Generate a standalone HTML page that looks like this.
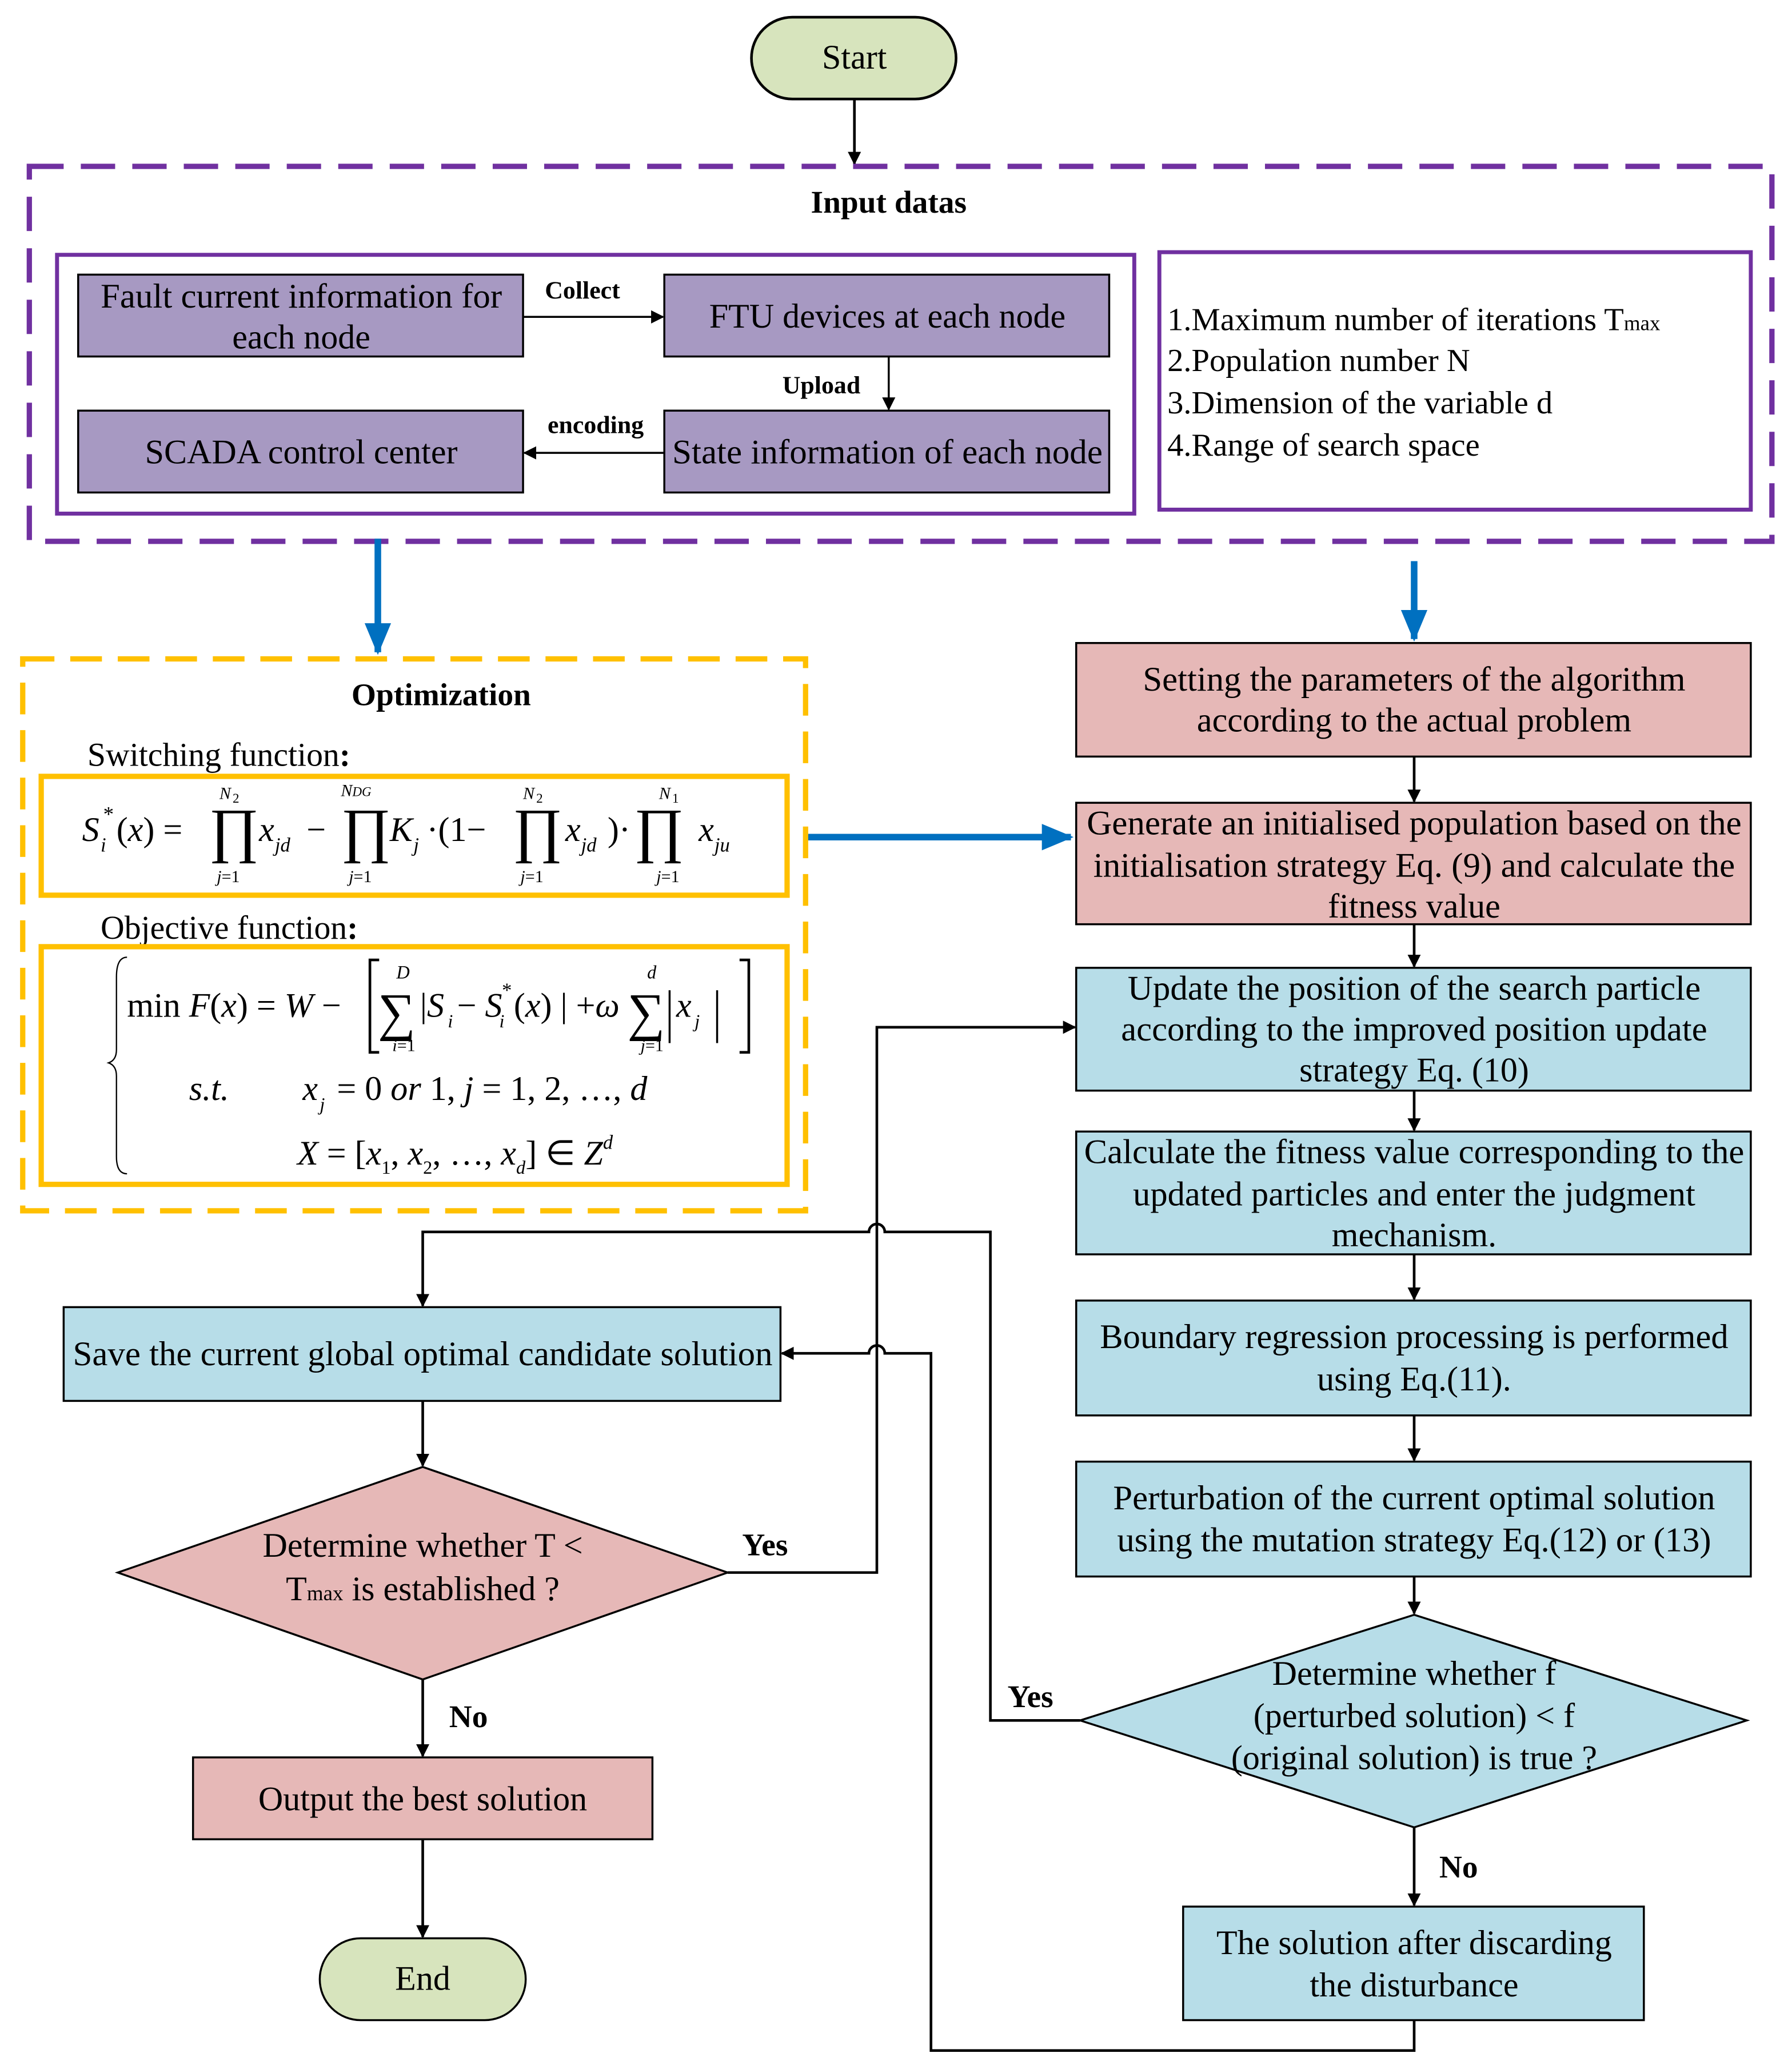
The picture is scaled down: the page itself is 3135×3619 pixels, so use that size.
<!DOCTYPE html>
<html><head><meta charset="utf-8"><style>html,body{margin:0;padding:0;background:#fff}svg{display:block}</style></head>
<body>
<svg xmlns="http://www.w3.org/2000/svg" width="3135" height="3619" viewBox="0 0 1357 1567" font-family="Liberation Serif, serif" font-size="26">
<defs>
<marker id="a" markerWidth="10" markerHeight="10" refX="9" refY="5" orient="auto" markerUnits="userSpaceOnUse"><path d="M0,0 L10,5 L0,10 z" fill="#000"/></marker>
<marker id="b" markerWidth="24" markerHeight="24" refX="22" refY="12" orient="auto" markerUnits="userSpaceOnUse"><path d="M0,2 L24,12 L0,22 z" fill="#0070c0"/></marker>
</defs>
<rect width="1357" height="1567" fill="#fff"/>
<g stroke="#000" stroke-width="2" fill="none">
<rect x="569" y="13" width="155" height="62" rx="31" fill="#d7e4bd"/>
<line x1="647" y1="75" x2="647" y2="124" marker-end="url(#a)"/>
</g>
<text x="647" y="52" text-anchor="middle">Start</text>
<rect x="22" y="126" width="1320" height="284" fill="none" stroke="#7030a0" stroke-width="4" stroke-dasharray="26,13"/>
<text x="673" y="161" text-anchor="middle" font-weight="bold" font-size="24">Input datas</text>
<rect x="43" y="193" width="816" height="196" fill="none" stroke="#7030a0" stroke-width="3"/>
<rect x="878" y="191" width="448" height="195" fill="none" stroke="#7030a0" stroke-width="3"/>
<g fill="#a799c2" stroke="#000" stroke-width="1.5">
<rect x="59" y="208" width="337" height="62"/><rect x="503" y="208" width="337" height="62"/>
<rect x="59" y="311" width="337" height="62"/><rect x="503" y="311" width="337" height="62"/>
</g>
<text x="228" y="233" text-anchor="middle" textLength="304" lengthAdjust="spacingAndGlyphs">Fault current information for</text>
<text x="228" y="264" text-anchor="middle">each node</text>
<text x="672" y="248" text-anchor="middle">FTU devices at each node</text>
<text x="228" y="351" text-anchor="middle">SCADA control center</text>
<text x="672" y="351" text-anchor="middle" textLength="326" lengthAdjust="spacingAndGlyphs">State information of each node</text>
<g stroke="#000" stroke-width="1.5" fill="none">
<line x1="396" y1="240" x2="502" y2="240" marker-end="url(#a)"/>
<line x1="673" y1="270" x2="673" y2="310" marker-end="url(#a)"/>
<line x1="503" y1="343" x2="397" y2="343" marker-end="url(#a)"/>
</g>
<g font-weight="bold" font-size="19" text-anchor="middle">
<text x="441" y="226">Collect</text><text x="622" y="298">Upload</text><text x="451" y="328">encoding</text>
</g>
<g font-size="24.5">
<text x="884" y="250">1.Maximum number of iterations T<tspan font-size="16">max</tspan></text>
<text x="884" y="281">2.Population number N</text>
<text x="884" y="313">3.Dimension of the variable d</text>
<text x="884" y="345">4.Range of search space</text>
</g>
<g stroke="#0070c0" stroke-width="5" fill="none">
<line x1="286" y1="408" x2="286" y2="494" marker-end="url(#b)"/>
<line x1="1071" y1="425" x2="1071" y2="484" marker-end="url(#b)"/>
<line x1="610" y1="634" x2="811" y2="634" marker-end="url(#b)"/>
</g>
<rect x="17" y="499" width="593" height="418" fill="none" stroke="#ffc000" stroke-width="4" stroke-dasharray="24,12"/>
<text x="334" y="534" text-anchor="middle" font-weight="bold" font-size="24">Optimization</text>
<text x="66" y="580" font-size="25">Switching function<tspan font-weight="bold">:</tspan></text>
<rect x="31" y="588" width="565" height="90" fill="none" stroke="#ffc000" stroke-width="4"/>
<text x="76" y="711" font-size="25">Objective function<tspan font-weight="bold">:</tspan></text>
<rect x="31" y="717" width="565" height="180" fill="none" stroke="#ffc000" stroke-width="4"/>
<g font-size="26">
<text x="62" y="637" font-style="italic">S</text><text x="76" y="645" font-size="15" font-style="italic">i</text><text x="78" y="622" font-size="16">*</text>
<text x="88" y="637">(<tspan font-style="italic">x</tspan>) =</text>
<text x="158" y="644" font-size="46">∏</text><text x="166" y="605" font-size="13" font-style="italic">N</text><text x="176" y="608" font-size="10">2</text><text x="164" y="668" font-size="13"><tspan font-style="italic">j</tspan>=1</text>
<text x="196" y="637" font-style="italic">x</text><text x="208" y="645" font-size="15" font-style="italic">jd</text>
<text x="232" y="637">−</text>
<text x="258" y="644" font-size="46">∏</text><text x="258" y="603" font-size="13" font-style="italic">N<tspan font-size="10">DG</tspan></text><text x="264" y="668" font-size="13"><tspan font-style="italic">j</tspan>=1</text>
<text x="295" y="637" font-style="italic">K</text><text x="313" y="645" font-size="15" font-style="italic">j</text>
<text x="323" y="637">·(1−</text>
<text x="388" y="644" font-size="46">∏</text><text x="396" y="605" font-size="13" font-style="italic">N</text><text x="406" y="608" font-size="10">2</text><text x="394" y="668" font-size="13"><tspan font-style="italic">j</tspan>=1</text>
<text x="428" y="637" font-style="italic">x</text><text x="440" y="645" font-size="15" font-style="italic">jd</text>
<text x="460" y="637">)·</text>
<text x="480" y="644" font-size="46">∏</text><text x="499" y="605" font-size="13" font-style="italic">N</text><text x="509" y="608" font-size="10">1</text><text x="497" y="668" font-size="13"><tspan font-style="italic">j</tspan>=1</text>
<text x="529" y="637" font-style="italic">x</text><text x="541" y="645" font-size="15" font-style="italic">ju</text>
</g>
<path d="M96,725 Q88,725 88,740 L88,795 Q88,803 82,805 Q88,807 88,815 L88,876 Q88,889 96,889" fill="none" stroke="#000" stroke-width="1"/>
<g font-size="26">
<text x="96" y="770">min <tspan font-style="italic">F</tspan>(<tspan font-style="italic">x</tspan>) = <tspan font-style="italic">W</tspan> −</text>
<path d="M287,727 L280,727 L280,797 L287,797 M560,727 L567,727 L567,797 L560,797" fill="none" stroke="#000" stroke-width="2"/>
<text x="286" y="780" font-size="40">∑</text><text x="300" y="741" font-size="14" font-style="italic">D</text><text x="297" y="796" font-size="13"><tspan font-style="italic">i</tspan>=1</text>
<text x="318" y="770">|<tspan font-style="italic">S</tspan></text><text x="339" y="778" font-size="14" font-style="italic">i</text>
<text x="346" y="770">− <tspan font-style="italic">S</tspan></text><text x="378" y="778" font-size="14" font-style="italic">i</text><text x="380" y="755" font-size="15">*</text>
<text x="389" y="770">(<tspan font-style="italic">x</tspan>) | +<tspan font-style="italic">ω</tspan></text>
<text x="475" y="780" font-size="40">∑</text><text x="490" y="741" font-size="14" font-style="italic">d</text><text x="485" y="796" font-size="13"><tspan font-style="italic">j</tspan>=1</text>
<path d="M507,750 L507,790 M543,750 L543,790" stroke="#000" stroke-width="1.5"/>
<text x="512" y="770" font-style="italic">x</text><text x="526" y="778" font-size="14" font-style="italic">j</text>
<text x="143" y="833" font-style="italic">s.t.</text>
<text x="229" y="833" font-style="italic">x</text><text x="242" y="841" font-size="14" font-style="italic">j</text>
<text x="255" y="833">= 0 <tspan font-style="italic">or</tspan> 1,    <tspan font-style="italic">j</tspan> = 1, 2, …, <tspan font-style="italic">d</tspan></text>
<text x="225" y="882"><tspan font-style="italic">X</tspan> = [<tspan font-style="italic">x</tspan><tspan font-size="14" dy="7">1</tspan><tspan dy="-7">, </tspan><tspan font-style="italic">x</tspan><tspan font-size="14" dy="7">2</tspan><tspan dy="-7">, …, </tspan><tspan font-style="italic">x</tspan><tspan font-size="14" font-style="italic" dy="7">d</tspan><tspan dy="-7">] ∈ </tspan><tspan font-style="italic">Z</tspan><tspan font-size="15" font-style="italic" dy="-12">d</tspan></text>
</g>
<g stroke="#000" stroke-width="1.5">
<rect x="815" y="487" width="511" height="86" fill="#e6b8b7"/>
<rect x="815" y="608" width="511" height="92" fill="#e6b8b7"/>
<rect x="815" y="733" width="511" height="93" fill="#b7dde8"/>
<rect x="815" y="857" width="511" height="93" fill="#b7dde8"/>
<rect x="815" y="985" width="511" height="87" fill="#b7dde8"/>
<rect x="815" y="1107" width="511" height="87" fill="#b7dde8"/>
<polygon points="1071,1223 1323,1303 1071,1384 818,1303" fill="#b7dde8"/>
<rect x="896" y="1444" width="349" height="86" fill="#b7dde8"/>
<rect x="48" y="990" width="543" height="71" fill="#b7dde8"/>
<polygon points="320,1111 551,1191 320,1272 89,1191" fill="#e6b8b7"/>
<rect x="146" y="1331" width="348" height="62" fill="#e6b8b7"/>
<rect x="242" y="1468" width="156" height="62" rx="31" fill="#d7e4bd"/>
</g>
<g text-anchor="middle">
<text x="1071" y="523" textLength="411" lengthAdjust="spacingAndGlyphs">Setting the parameters of the algorithm</text>
<text x="1071" y="554">according to the actual problem</text>
<text x="1071" y="632" textLength="496" lengthAdjust="spacingAndGlyphs">Generate an initialised population based on the</text>
<text x="1071" y="664" textLength="486" lengthAdjust="spacingAndGlyphs">initialisation strategy Eq. (9) and calculate the</text>
<text x="1071" y="695">fitness value</text>
<text x="1071" y="757" textLength="434" lengthAdjust="spacingAndGlyphs">Update the position of the search particle</text>
<text x="1071" y="788" textLength="444" lengthAdjust="spacingAndGlyphs">according to the improved position update</text>
<text x="1071" y="819">strategy Eq. (10)</text>
<text x="1071" y="881" textLength="500" lengthAdjust="spacingAndGlyphs">Calculate the fitness value corresponding to the</text>
<text x="1071" y="913" textLength="426" lengthAdjust="spacingAndGlyphs">updated particles and enter the judgment</text>
<text x="1071" y="944">mechanism.</text>
<text x="1071" y="1021" textLength="476" lengthAdjust="spacingAndGlyphs">Boundary regression processing is performed</text>
<text x="1071" y="1053">using Eq.(11).</text>
<text x="1071" y="1143" textLength="456" lengthAdjust="spacingAndGlyphs">Perturbation of the current optimal solution</text>
<text x="1071" y="1175" textLength="450" lengthAdjust="spacingAndGlyphs">using the mutation strategy Eq.(12) or (13)</text>
<text x="1071" y="1276">Determine whether f</text>
<text x="1071" y="1308">(perturbed solution) &lt; f</text>
<text x="1071" y="1340">(original solution) is true ?</text>
<text x="1071" y="1480">The solution after discarding</text>
<text x="1071" y="1512">the disturbance</text>
<text x="320" y="1034" textLength="530" lengthAdjust="spacingAndGlyphs">Save the current global optimal candidate solution</text>
<text x="320" y="1179">Determine whether T &lt;</text>
<text x="320" y="1212">T<tspan font-size="16">max</tspan> is established ?</text>
<text x="320" y="1371">Output the best solution</text>
<text x="320" y="1507">End</text>
</g>
<g font-weight="bold" font-size="24">
<text x="562" y="1178">Yes</text><text x="763" y="1293">Yes</text><text x="340" y="1308">No</text><text x="1090" y="1422">No</text>
</g>
<g stroke="#000" stroke-width="2" fill="none">
<line x1="1071" y1="573" x2="1071" y2="607" marker-end="url(#a)"/>
<line x1="1071" y1="700" x2="1071" y2="732" marker-end="url(#a)"/>
<line x1="1071" y1="826" x2="1071" y2="856" marker-end="url(#a)"/>
<line x1="1071" y1="950" x2="1071" y2="984" marker-end="url(#a)"/>
<line x1="1071" y1="1072" x2="1071" y2="1106" marker-end="url(#a)"/>
<line x1="1071" y1="1194" x2="1071" y2="1222" marker-end="url(#a)"/>
<line x1="1071" y1="1384" x2="1071" y2="1443" marker-end="url(#a)"/>
<line x1="320" y1="1061" x2="320" y2="1110" marker-end="url(#a)"/>
<line x1="320" y1="1272" x2="320" y2="1330" marker-end="url(#a)"/>
<line x1="320" y1="1393" x2="320" y2="1467" marker-end="url(#a)"/>
<polyline points="551,1191 664,1191 664,778 814,778" marker-end="url(#a)"/>
<path d="M818,1303 L750,1303 L750,933 L670,933 A6,6 0 0 0 658,933 L320,933 L320,989" marker-end="url(#a)"/>
<path d="M1071,1530 L1071,1553 L705,1553 L705,1025 L670,1025 A6,6 0 0 0 658,1025 L592,1025" marker-end="url(#a)"/>
</g>
</svg>
</body></html>
